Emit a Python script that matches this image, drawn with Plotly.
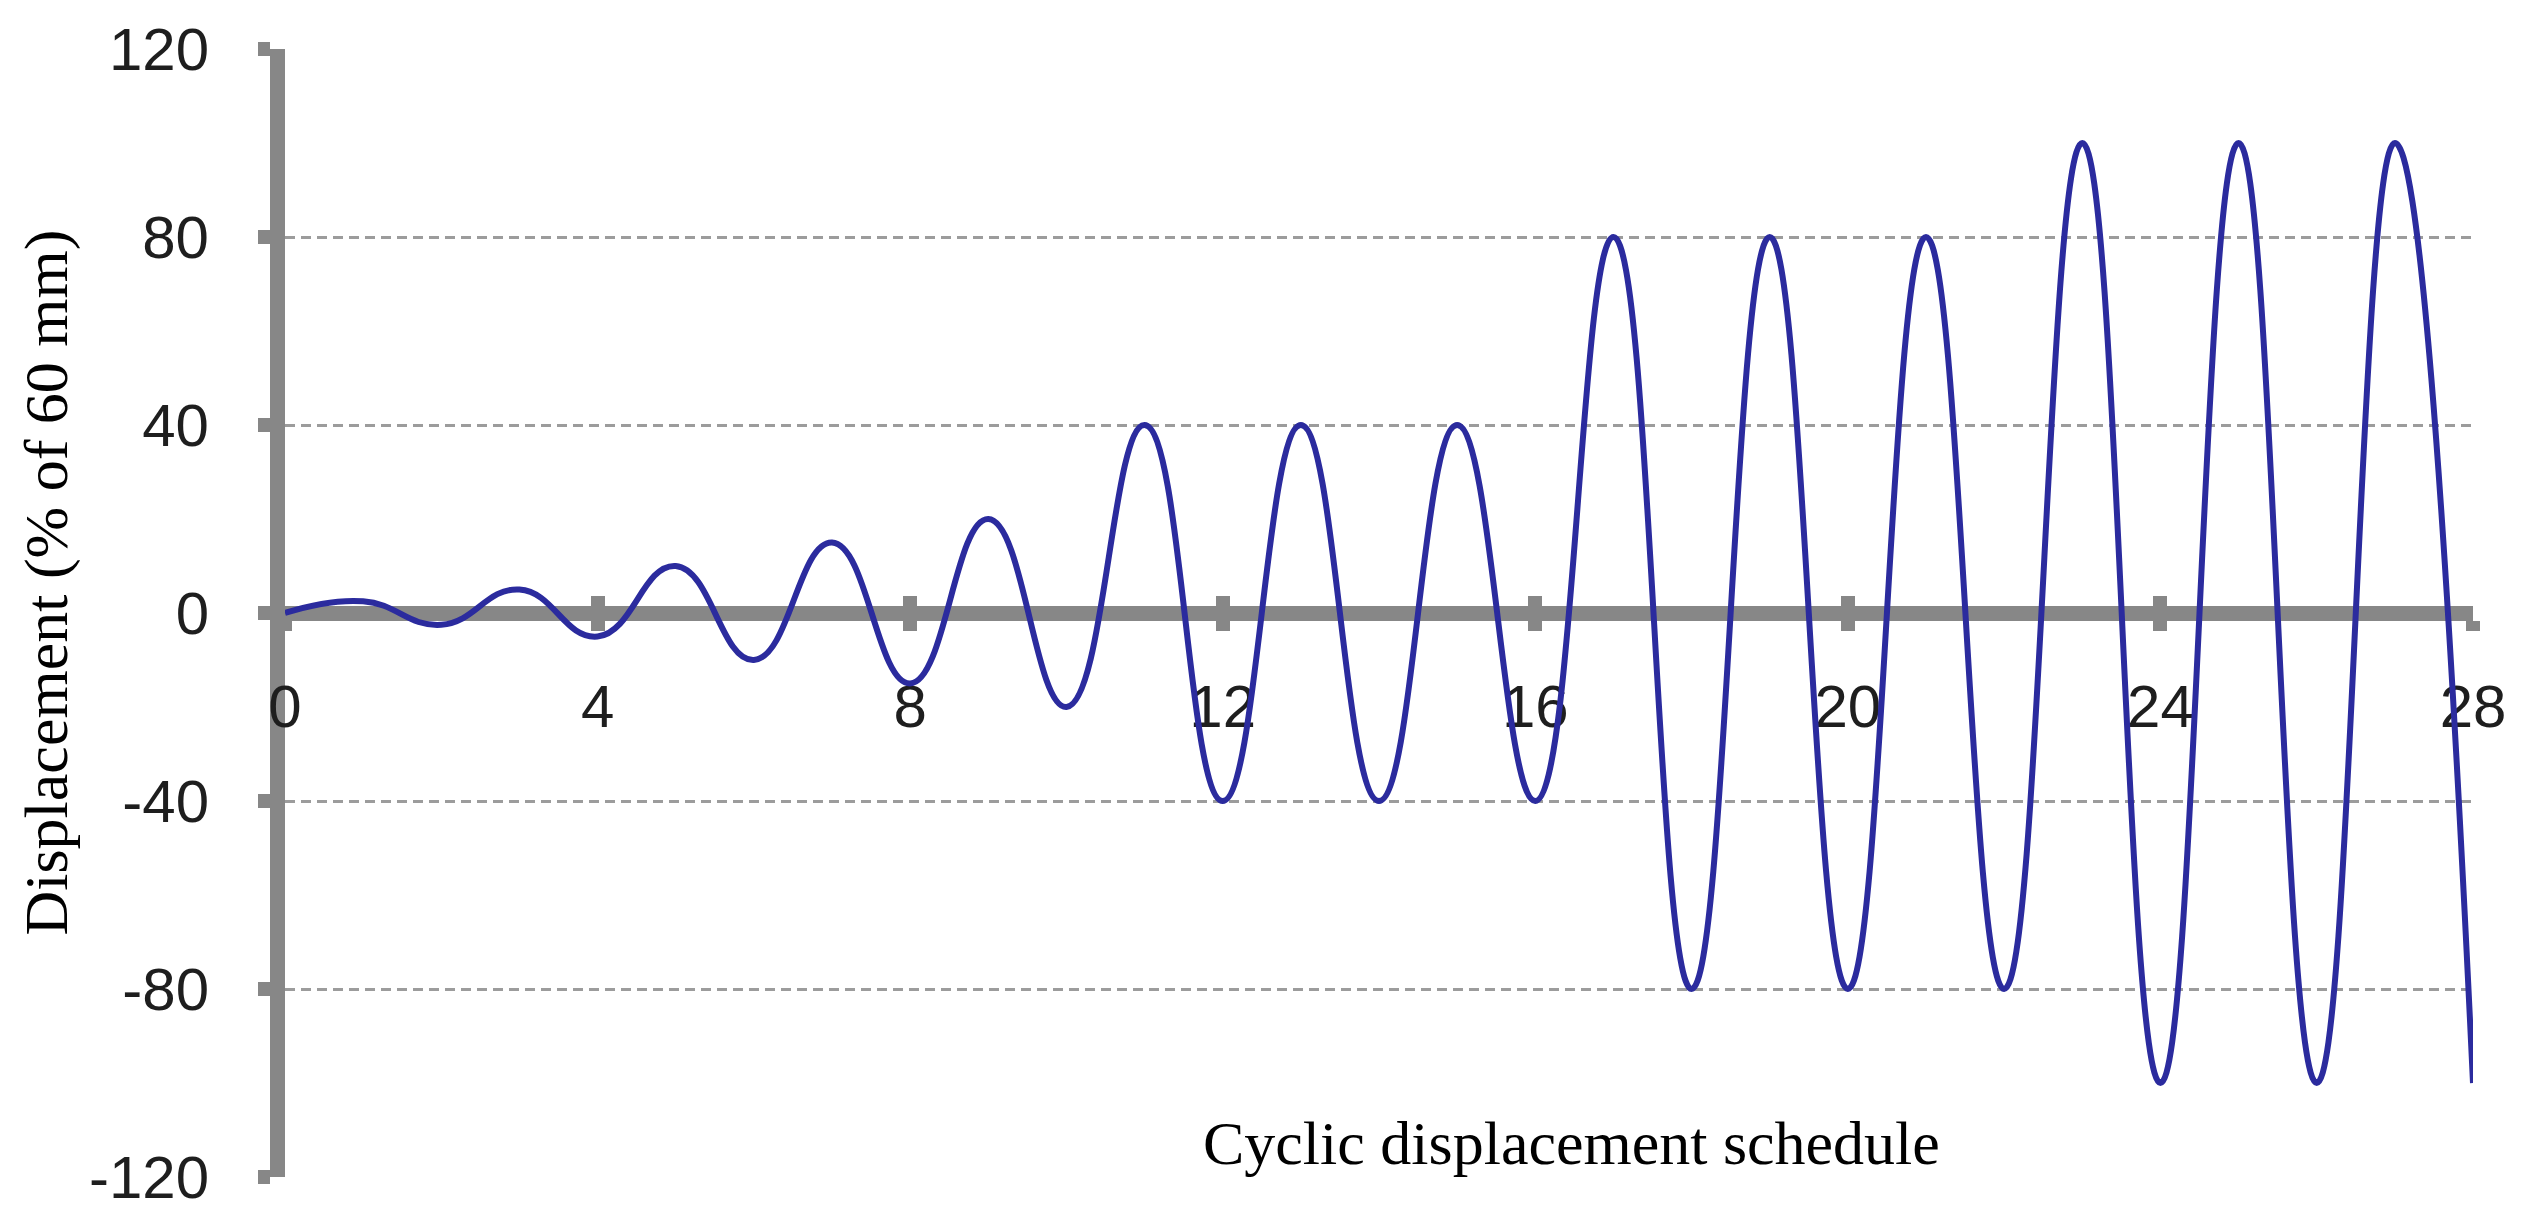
import plotly.graph_objects as go

# Data: cycle number vs displacement (% of 60 mm)
cycle = list(range(0, 29))
displacement = [0, 2.5, -2.5, 5, -5, 10, -10, 15, -15, 20, -20,
                40, -40, 40, -40, 40, -40,
                80, -80, 80, -80, 80, -80,
                100, -100, 100, -100, 100, -100]
x_ticks = [0, 4, 8, 12, 16, 20, 24, 28]
y_ticks = [-120, -80, -40, 0, 40, 80, 120]

AXIS_GRAY = "#878787"
GRID_GRAY = "#9c9c9c"
LINE_BLUE = "#2b2b9e"
W, H = 2542, 1222
# page body has an 8px default margin, compensate
L, R, T, B = 277, 77, 41, 53

fig = go.Figure()
fig.add_trace(go.Scatter(
    x=cycle, y=displacement, mode="lines",
    line=dict(color=LINE_BLUE, width=6, shape="spline", smoothing=1.3),
    showlegend=False, hoverinfo="x+y"))
# invisible companion trace so the second (inside-tick) x axis is drawn
fig.add_trace(go.Scatter(
    x=cycle, y=displacement, mode="lines", xaxis="x2",
    line=dict(color="rgba(0,0,0,0)", width=0),
    showlegend=False, hoverinfo="skip"))

tickfont = dict(family="Liberation Sans, Arial, sans-serif", size=60, color="#1e1e1e")

fig.update_layout(
    width=W, height=H,
    margin=dict(l=L, r=R, t=T, b=B, autoexpand=False),
    paper_bgcolor="white", plot_bgcolor="white",
    xaxis=dict(
        range=[0, 28], tickvals=x_ticks, ticktext=[str(v) for v in x_ticks],
        anchor="free", position=0.5, automargin=False,
        showline=True, linecolor=AXIS_GRAY, linewidth=15,
        ticks="outside", ticklen=10, tickwidth=14, tickcolor=AXIS_GRAY,
        showgrid=False, zeroline=False, tickfont=tickfont,
        ticklabelstandoff=24, layer="below traces"),
    xaxis2=dict(
        range=[0, 28], tickvals=x_ticks, overlaying="x",
        anchor="free", position=0.5, side="bottom", automargin=False,
        showline=False, linewidth=1,
        ticks="inside", ticklen=17, tickwidth=14, tickcolor=AXIS_GRAY,
        showticklabels=False, showgrid=False, zeroline=False,
        layer="below traces"),
    yaxis=dict(
        range=[-120, 120], tickvals=y_ticks, ticktext=[str(v) for v in y_ticks],
        showline=True, linecolor=AXIS_GRAY, linewidth=15, automargin=False,
        ticks="outside", ticklen=12, tickwidth=14, tickcolor=AXIS_GRAY,
        showgrid=True, gridcolor=GRID_GRAY, gridwidth=3, griddash="10px,6px",
        zeroline=False, tickfont=tickfont, ticklabelstandoff=37,
        layer="below traces"),
    annotations=[
        dict(text="Cyclic displacement schedule", xref="paper", yref="paper",
             x=0.588, y=0.03, xanchor="center", yanchor="middle", showarrow=False,
             font=dict(family="Liberation Serif, Times New Roman, serif", size=62, color="black")),
        dict(text="Displacement (% of 60 mm)", xref="paper", yref="paper",
             x=-0.109, y=0.5266, xanchor="center", yanchor="middle", showarrow=False,
             textangle=-90,
             font=dict(family="Liberation Serif, Times New Roman, serif", size=62, color="black")),
    ],
)

fig.write_html("out.html")
